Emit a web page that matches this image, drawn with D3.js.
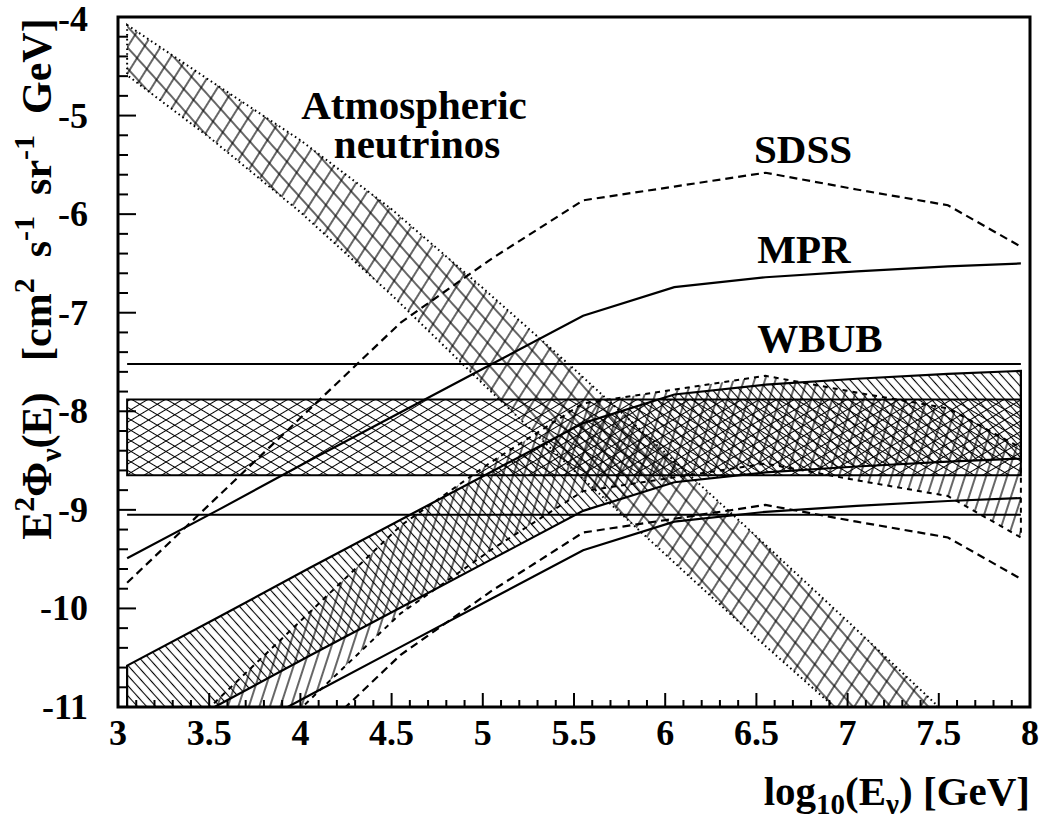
<!DOCTYPE html>
<head>
  <meta charset="utf-8">
  <script src="https://d3js.org/d3.v7.min.js"></script>
  <style>
    body { margin:0; background:#fff; }
    svg { font-family: "Liberation Serif", "Times New Roman", serif; font-weight: bold; }
  </style>
</head>
<body>
<svg width="1042" height="820"></svg>

<script>
  // log10(E) grid used by the model curves
  var energies = [3.05, 3.55, 4.05, 4.55, 5.05, 5.55, 6.05, 6.55, 7.05, 7.55, 7.95];

  var sdss         = [-9.74, -8.86, -7.98, -7.10, -6.45, -5.86, -5.72, -5.58, -5.75, -5.91, -6.33];
  var sdssBandHigh = [-11.80, -10.92, -10.04, -9.16, -8.51, -7.92, -7.78, -7.64, -7.81, -7.97, -8.37];
  var sdssBandLow  = [-12.69, -11.81, -10.93, -10.05, -9.40, -8.81, -8.67, -8.53, -8.70, -8.86, -9.28];
  var sdssLow      = [-13.11, -12.23, -11.35, -10.47, -9.82, -9.23, -9.09, -8.95, -9.12, -9.28, -9.70];

  var mpr          = [-9.49, -9.00, -8.50, -8.01, -7.52, -7.03, -6.74, -6.64, -6.58, -6.53, -6.50];
  var mprBandHigh  = [-10.58, -10.09, -9.59, -9.10, -8.61, -8.12, -7.83, -7.73, -7.67, -7.62, -7.59];
  var mprBandLow   = [-11.47, -10.98, -10.48, -9.99, -9.50, -9.01, -8.72, -8.62, -8.56, -8.51, -8.48];
  var mprLow       = [-11.87, -11.38, -10.88, -10.39, -9.90, -9.41, -9.12, -9.02, -8.96, -8.91, -8.88];

  var wbubLines = [-7.52, -9.05];
  var wbubBox   = [-7.88, -8.65];

  // atmospheric neutrino band
  var atmX    = [3.05, 3.5, 4.0, 4.5, 5.0, 5.5, 6.0, 6.5, 7.0, 7.5, 7.6];
  var atmHigh = [-4.08, -4.64, -5.25, -5.95, -6.75, -7.57, -8.42, -9.27, -10.13, -11.0, -11.17];
  var atmLow  = [-4.59, -5.22, -5.98, -6.82, -7.72, -8.60, -9.45, -10.30, -11.12, -11.97, -12.14];

  var xTicks = [3, 3.5, 4, 4.5, 5, 5.5, 6, 6.5, 7, 7.5, 8];
  var yTicks = [-11, -10, -9, -8, -7, -6, -5, -4];

  var svg = d3.select("svg");
  var plotL = 118, plotR = 1030, plotT = 17, plotB = 707;

  var x = d3.scaleLinear().domain([3, 8]).range([plotL, plotR]);
  var y = d3.scaleLinear().domain([-11, -4]).range([plotB, plotT]);

  var defs = svg.append("defs");
  defs.append("clipPath").attr("id", "plot")
    .append("rect").attr("x", plotL).attr("y", plotT)
    .attr("width", plotR - plotL).attr("height", plotB - plotT);

  // single-direction hatch pattern
  function hatch(id, angle, spacing, w) {
    var p = defs.append("pattern").attr("id", id)
      .attr("patternUnits", "userSpaceOnUse")
      .attr("width", spacing).attr("height", spacing)
      .attr("patternTransform", "rotate(" + angle + ")");
    p.append("line")
      .attr("x1", spacing / 2).attr("y1", -1)
      .attr("x2", spacing / 2).attr("y2", spacing + 1)
      .attr("stroke", "#000").attr("stroke-width", w || 1.1);
  }
  hatch("atmA", -42, 14, 1.2);
  hatch("atmB", 32, 14, 1.2);
  hatch("boxA", -59, 9, 1);
  hatch("boxB", 59, 9, 1);
  hatch("mprH", -42, 6.8);
  hatch("sdssH", 18, 10, 1.2);

  var g = svg.append("g").attr("clip-path", "url(#plot)");

  var line = d3.line().x(function(d) { return x(d[0]); }).y(function(d) { return y(d[1]); });

  function pts(xs, ys) { return xs.map(function(v, i) { return [v, ys[i]]; }); }
  function band(xs, hi, lo) {
    return line(pts(xs, hi).concat(pts(xs, lo).reverse())) + "Z";
  }

  // WBUB box
  var boxPath = band([energies[0], energies[energies.length - 1]],
                     [wbubBox[0], wbubBox[0]], [wbubBox[1], wbubBox[1]]);
  ["boxA", "boxB"].forEach(function(p) {
    g.append("path").attr("d", boxPath).attr("fill", "url(#" + p + ")");
  });
  g.append("path").attr("d", boxPath).attr("fill", "none")
    .attr("stroke", "#000").attr("stroke-width", 2);

  // atmospheric band
  var atmPath = band(atmX, atmHigh, atmLow);
  ["atmA", "atmB"].forEach(function(p) {
    g.append("path").attr("d", atmPath).attr("fill", "url(#" + p + ")");
  });
  g.append("path").attr("d", atmPath).attr("fill", "none")
    .attr("stroke", "#000").attr("stroke-width", 2)
    .attr("stroke-dasharray", "1.6,3.2");

  // MPR-shaped band
  var mprPath = band(energies, mprBandHigh, mprBandLow);
  g.append("path").attr("d", mprPath).attr("fill", "url(#mprH)");
  g.append("path").attr("d", mprPath).attr("fill", "none")
    .attr("stroke", "#000").attr("stroke-width", 2.2);

  // SDSS-shaped band
  var sdssPath = band(energies, sdssBandHigh, sdssBandLow);
  g.append("path").attr("d", sdssPath).attr("fill", "url(#sdssH)");
  g.append("path").attr("d", sdssPath).attr("fill", "none")
    .attr("stroke", "#000").attr("stroke-width", 2)
    .attr("stroke-dasharray", "5,5");

  // WBUB lines
  wbubLines.forEach(function(v) {
    g.append("path").attr("d", line(pts([energies[0], energies[energies.length - 1]], [v, v])))
      .attr("fill", "none").attr("stroke", "#000").attr("stroke-width", 2);
  });

  // curves
  [[mpr, null], [mprLow, null], [sdss, "8,5"], [sdssLow, "8,5"]].forEach(function(c) {
    g.append("path").attr("d", line(pts(energies, c[0])))
      .attr("fill", "none").attr("stroke", "#000").attr("stroke-width", 2.2)
      .attr("stroke-dasharray", c[1]);
  });

  // axes: ticks drawn inside the frame
  var ax = svg.append("g");
  d3.range(30, 81).forEach(function(i) {
    var v = i / 10, major = i % 5 === 0;
    ax.append("line").attr("x1", x(v)).attr("x2", x(v))
      .attr("y1", plotB).attr("y2", plotB - (major ? 14 : 7))
      .attr("stroke", "#000").attr("stroke-width", 2);
  });
  d3.range(-55, -19).forEach(function(i) {
    var v = i / 5, major = i % 5 === 0;
    ax.append("line").attr("x1", plotL).attr("x2", plotL + (major ? 18 : 10))
      .attr("y1", y(v)).attr("y2", y(v))
      .attr("stroke", "#000").attr("stroke-width", 2);
  });
  ax.append("rect").attr("x", plotL).attr("y", plotT)
    .attr("width", plotR - plotL).attr("height", plotB - plotT)
    .attr("fill", "none").attr("stroke", "#000").attr("stroke-width", 3);

  ax.selectAll("text.xt").data(xTicks).enter().append("text")
    .attr("x", function(d) { return x(d); }).attr("y", 745)
    .attr("text-anchor", "middle").attr("font-size", 36)
    .text(function(d) { return d; });
  ax.selectAll("text.yt").data(yTicks).enter().append("text")
    .attr("x", 88).attr("y", function(d) { return Math.max(y(d) + 12, 31); })
    .attr("text-anchor", "end").attr("font-size", 36)
    .text(function(d) { return d; });

  // axis titles
  var xt = svg.append("text").attr("x", 1030).attr("y", 805)
    .attr("text-anchor", "end").attr("font-size", 41);
  xt.append("tspan").text("log");
  xt.append("tspan").attr("font-size", 29).attr("dy", 9).text("10");
  xt.append("tspan").attr("dy", -9).text("(E");
  xt.append("tspan").attr("font-size", 29).attr("dy", 9).text("ν");
  xt.append("tspan").attr("dy", -9).text(") [GeV]");

  var yt = svg.append("text").attr("transform", "translate(51,279) rotate(-90)")
    .attr("text-anchor", "middle").attr("font-size", 42)
    .style("white-space", "pre");
  yt.append("tspan").text("E");
  yt.append("tspan").attr("font-size", 30).attr("dy", -17).text("2");
  yt.append("tspan").attr("dy", 17).text("Φ");
  yt.append("tspan").attr("font-size", 30).attr("dy", 10).text("ν");
  yt.append("tspan").attr("dy", -10).text("(E)   [cm");
  yt.append("tspan").attr("font-size", 30).attr("dy", -17).text("2");
  yt.append("tspan").attr("dy", 17).text("  s");
  yt.append("tspan").attr("font-size", 30).attr("dy", -17).text("-1");
  yt.append("tspan").attr("dy", 17).text("  sr");
  yt.append("tspan").attr("font-size", 30).attr("dy", -17).text("-1");
  yt.append("tspan").attr("dy", 17).text("  GeV]");

  // annotations
  var notes = [["Atmospheric", 414, 119], ["neutrinos", 417, 158],
               ["SDSS", 803, 163], ["MPR", 804, 263], ["WBUB", 820, 352]];
  svg.selectAll("text.note").data(notes).enter().append("text")
    .attr("x", function(d) { return d[1]; }).attr("y", function(d) { return d[2]; })
    .attr("text-anchor", "middle").attr("font-size", 41)
    .text(function(d) { return d[0]; });
</script>
</body>
